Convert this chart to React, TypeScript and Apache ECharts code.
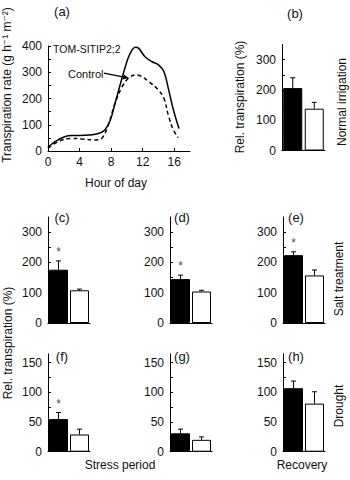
import React, { useEffect, useRef } from "react";
import * as echarts from "echarts";

// Panel (a): diurnal transpiration rate (g h-1 m-2)
const tomHours = [0, 0.9, 2.2, 3.0, 4.7, 6.4, 7.2, 7.9, 8.5, 9.2, 9.8, 10.4, 11.1, 11.5, 12.3, 13.2, 14.0, 14.7, 15.3, 15.9, 16.6];
const tomRate = [14, 36, 55, 59, 60, 67, 80, 118, 182, 258, 321, 371, 395, 391, 359, 340, 328, 302, 232, 156, 86];
const ctrlHours = [0, 1.3, 3.0, 4.3, 6.0, 6.8, 7.7, 8.5, 9.4, 10.2, 11.1, 11.7, 12.8, 14.0, 14.7, 15.3, 15.9, 16.5];
const ctrlRate = [10, 36, 48, 46, 42, 48, 105, 182, 245, 277, 290, 286, 264, 232, 200, 131, 80, 51];
const hourTicks = [0, 4, 8, 12, 16];
const rateTicks = [0, 100, 200, 300, 400];

// Panels (b)-(h): relative transpiration (%)
const panelNames = ["(b)", "(c)", "(d)", "(e)", "(f)", "(g)", "(h)"];
const tomMean = [206, 176, 145, 224, 55, 31, 107];
const tomErrTop = [240, 205, 158, 235, 66, 38, 119];
const ctrlMean = [138, 108, 104, 157, 29, 20, 81];
const ctrlErrTop = [159, 112, 108, 175, 38, 25, 101];
const significant = [false, true, true, true, true, false, false];
const relMax = [350, 350, 350, 350, 165, 165, 165];
const relTicksHigh = [0, 100, 200, 300];
const relTicksLow = [0, 50, 100, 150];
const barCategories = ["TOM-SITIP2;2", "Control"];

const FONT = "Liberation Sans, Arial, Helvetica, DejaVu Sans, sans-serif";
const INK = "#111";

const barGrids = [
  { left: 282, top: 44.5, width: 43, height: 106 },
  { left: 48, top: 217, width: 42, height: 106 },
  { left: 170, top: 217, width: 42, height: 106 },
  { left: 283, top: 217, width: 42, height: 106 },
  { left: 48, top: 353.8, width: 42, height: 97.9 },
  { left: 170, top: 353.8, width: 42, height: 97.9 },
  { left: 283, top: 353.8, width: 42, height: 97.9 },
];

function buildOption() {
  const grid: any[] = [{ left: 48, top: 46, width: 142, height: 105 }, ...barGrids];
  const xAxis: any[] = [
    {
      gridIndex: 0,
      type: "value",
      min: 0,
      max: 18,
      interval: 2,
      axisLine: { lineStyle: { color: "#000", width: 1 } },
      axisTick: { inside: true, length: 3, lineStyle: { color: "#000" }, customValues: hourTicks },
      axisLabel: { color: INK, fontSize: 12, fontFamily: FONT, margin: 5, customValues: hourTicks },
      splitLine: { show: false },
    },
  ];
  const yAxis: any[] = [
    {
      gridIndex: 0,
      type: "value",
      min: 0,
      max: 400,
      interval: 50,
      axisLine: { show: true, lineStyle: { color: "#000", width: 1 } },
      axisTick: { show: true, inside: true, length: 3, lineStyle: { color: "#000" } },
      axisLabel: {
        color: INK,
        fontSize: 12,
        fontFamily: FONT,
        margin: 6,
        customValues: rateTicks,
      },
      splitLine: { show: false },
    },
  ];
  const series: any[] = [
    {
      type: "line",
      xAxisIndex: 0,
      yAxisIndex: 0,
      data: tomHours.map((h, i) => [h, tomRate[i]]),
      smooth: 0.4,
      showSymbol: false,
      lineStyle: { color: "#000", width: 1.5 },
    },
    {
      type: "line",
      xAxisIndex: 0,
      yAxisIndex: 0,
      data: ctrlHours.map((h, i) => [h, ctrlRate[i]]),
      smooth: 0.4,
      showSymbol: false,
      lineStyle: { color: "#000", width: 1.5, type: [4, 3] },
    },
  ];

  barGrids.forEach((_, k) => {
    const gi = k + 1;
    const low = relMax[k] < 200;
    const labelVals = low ? relTicksLow : relTicksHigh;
    const tickVals = low ? [0, 25, 50, 75, 100, 125, 150] : [0, 50, 100, 150, 200, 250, 300];
    xAxis.push({
      gridIndex: gi,
      type: "category",
      data: barCategories,
      axisLine: { lineStyle: { color: "#000", width: 1 } },
      axisTick: { alignWithLabel: true, length: 3, lineStyle: { color: "#000" } },
      axisLabel: { show: false },
    });
    yAxis.push({
      gridIndex: gi,
      type: "value",
      min: 0,
      max: relMax[k],
      interval: 50,
      axisLine: { show: true, lineStyle: { color: "#000", width: 1 } },
      axisTick: { show: true, inside: true, length: 3, lineStyle: { color: "#000" }, customValues: tickVals },
      axisLabel: { color: INK, fontSize: 12, fontFamily: FONT, margin: 6, customValues: labelVals },
      splitLine: { show: false },
    });
    series.push({
      type: "bar",
      xAxisIndex: gi,
      yAxisIndex: gi,
      barWidth: 19,
      data: [
        { value: tomMean[k], itemStyle: { color: "#000", borderColor: "#000", borderWidth: 1 } },
        { value: ctrlMean[k], itemStyle: { color: "#fff", borderColor: "#000", borderWidth: 1 } },
      ],
    });
    series.push({
      type: "custom",
      xAxisIndex: gi,
      yAxisIndex: gi,
      encode: { x: 0, y: [1, 2] },
      data: [
        [0, tomMean[k], tomErrTop[k]],
        [1, ctrlMean[k], ctrlErrTop[k]],
      ],
      renderItem: (params: any, api: any) => {
        const idx = api.value(0);
        const p0 = api.coord([idx, api.value(1)]);
        const p1 = api.coord([idx, api.value(2)]);
        return {
          type: "group",
          children: [
            { type: "line", shape: { x1: p0[0], y1: p0[1], x2: p1[0], y2: p1[1] }, style: { stroke: "#000", lineWidth: 1 } },
            { type: "line", shape: { x1: p1[0] - 2.5, y1: p1[1], x2: p1[0] + 2.5, y2: p1[1] }, style: { stroke: "#000", lineWidth: 1 } },
          ],
        };
      },
      z: 3,
    });
    if (significant[k]) {
      series.push({
        type: "scatter",
        xAxisIndex: gi,
        yAxisIndex: gi,
        symbolSize: 2,
        itemStyle: { color: "rgba(0,0,0,0)" },
        data: [[0, tomErrTop[k]]],
        label: {
          show: true,
          formatter: "*",
          position: "top",
          distance: 2,
          color: INK,
          fontSize: 12,
          fontFamily: FONT,
        },
        z: 4,
      });
    }
  });

  const txt = (text: string, x: number, y: number, size: number, rot = 0, align = "center") => ({
    type: "text",
    x,
    y,
    rotation: rot,
    style: {
      text,
      fill: INK,
      font: `${size}px ${FONT}`,
      textAlign: align,
      textVerticalAlign: "middle",
    },
  });
  const R = Math.PI / 2;
  const graphic: any[] = [
    txt("(a)", 62, 11, 13),
    txt("(b)", 295, 13, 13),
    txt("(c)", 62, 217, 13),
    txt("(d)", 182, 217, 13),
    txt("(e)", 296, 217, 13),
    txt("(f)", 62, 356, 13),
    txt("(g)", 182, 356, 13),
    txt("(h)", 296, 356, 13),
    txt("Transpiration rate (g h\u207B\u00B9 m\u207B\u00B2)", 7, 85, 12, R),
    txt("Rel. transpiration (%)", 240, 97, 12, R),
    txt("Rel. transpiration (%)", 8, 343, 12, R),
    txt("Normal irrigation", 342, 102, 12, R),
    txt("Salt treatment", 339, 279, 12, R),
    txt("Drought", 339, 406, 12, R),
    txt("Hour of day", 116, 183, 12),
    txt("Stress period", 120, 465, 12),
    txt("Recovery", 302, 465, 12),
    txt("TOM-SITIP2;2", 53, 49, 10.5, 0, "left"),
    txt("Control", 68, 74, 11, 0, "left"),
    {
      type: "line",
      shape: { x1: 104, y1: 73.2, x2: 124, y2: 77.1 },
      style: { stroke: "#000", lineWidth: 1.3 },
    },
    {
      type: "polygon",
      shape: { points: [[129, 78], [122.6, 79.4], [123.6, 74.4]] },
      style: { fill: "#000" },
    },
  ];

  return { animation: false, backgroundColor: "#fff", grid, xAxis, yAxis, series, graphic };
}

export default function App() {
  const ref = useRef<HTMLDivElement>(null);
  useEffect(() => {
    if (!ref.current) return;
    const chart = echarts.init(ref.current, null, { renderer: "svg" });
    chart.setOption(buildOption() as any);
    return () => chart.dispose();
  }, []);
  return <div ref={ref} style={{ position: "fixed", left: 0, top: 0, width: 350, height: 480 }} />;
}
